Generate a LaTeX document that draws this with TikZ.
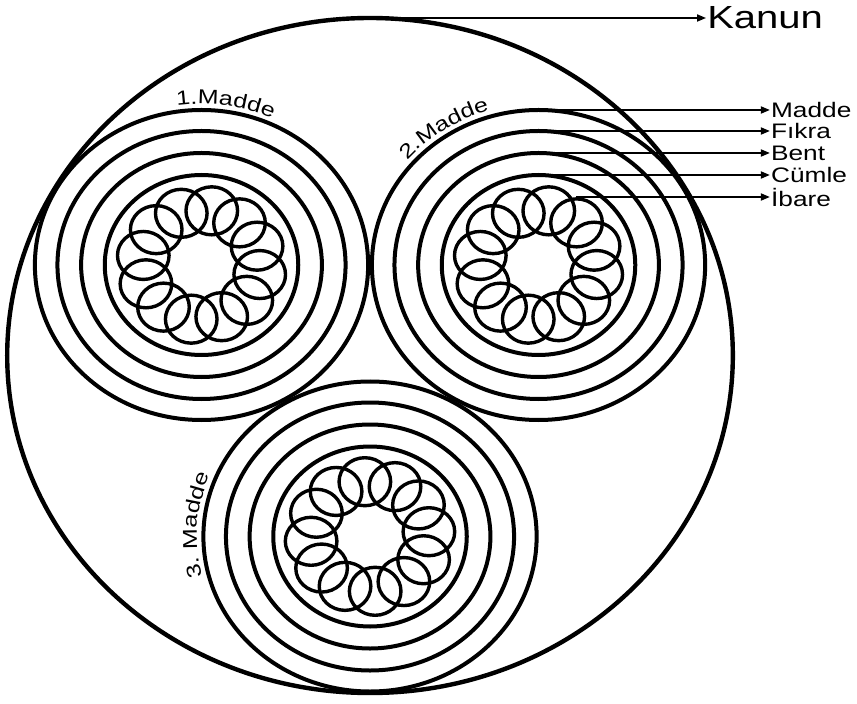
\documentclass[tikz,border=0pt]{standalone}
\usepackage{fontspec}
\setmainfont{Liberation Sans}[FakeStretch=1.25]
\usetikzlibrary{arrows.meta}
\usetikzlibrary{decorations.text}

\newcommand\grpfont{\fontsize{20}{24}\selectfont}

\tikzset{
  ring/.style={line width=4pt},
  petal/.style={line width=3.4pt},
  lbl/.style={anchor=west, inner sep=1pt, font=\fontsize{21}{25}\selectfont},
  pointer/.style={line width=1.7pt, -{Triangle[length=9pt,width=7pt]}},
  arcname/.style={decorate, decoration={text along path, text align=center, text={|\grpfont|#1}}}
}

\begin{document}
\begin{tikzpicture}[x=1.075pt, y=1pt]
\useasboundingbox (-344.2,-347.5) rectangle (453,355.5);

\draw[line width=4.4pt] (0,0) circle (337.5);
\coordinate (top) at (90:337.5);

\begin{scope}[shift={(150:181)}]
\foreach \r in {90,112,134,155} \draw[ring] (0,0) circle (\r);
\foreach \a in {20,50,...,350} \draw[petal] (\a:55) circle (24);
\path[arcname=1.Madde] (103:161) arc[start angle=103, end angle=61, radius=161];
\end{scope}

\begin{scope}[shift={(30:181)}]
\foreach \r/\n in {90/4,112/3,134/2,155/1} \draw[ring] (0,0) circle (\r) (90:\r) coordinate (r\n);
\foreach \a in {20,50,...,350} \draw[petal] (\a:55) circle (24);
\path (50:55) ++(0,24) coordinate (ib);
\path[arcname=2.Madde] (143:161) arc[start angle=143, end angle=103, radius=161];
\end{scope}

\begin{scope}[shift={(270:181)}]
\foreach \r in {90,112,134,155} \draw[ring] (0,0) circle (\r);
\foreach \a in {5,35,...,335} \draw[petal] (\a:55) circle (24);
\path[arcname=3. Madde] (198:161) arc[start angle=198, end angle=154, radius=161];
\end{scope}

\coordinate (lx) at (372,0);
\coordinate (kx) at (312.6,0);
\node[lbl, font=\fontsize{32}{38}\selectfont] (kanun) at (top -| kx) {Kanun};
\node[lbl] (madde) at (r1 -| lx) {Madde};
\node[lbl] (fikra) at (r2 -| lx) {Fıkra};
\node[lbl] (bent) at (r3 -| lx) {Bent};
\node[lbl] (cumle) at (r4 -| lx) {Cümle};
\node[lbl] (ibare) at ([yshift=-22pt]cumle.west) {İbare};

\draw[pointer] (top) -- (kanun);
\draw[pointer] (r1) -- (madde);
\draw[pointer] (r2) -- (fikra);
\draw[pointer] (r3) -- (bent);
\draw[pointer] (r4) -- (cumle);
\draw[pointer] (ib) |- (ibare);

\end{tikzpicture}
\end{document}
